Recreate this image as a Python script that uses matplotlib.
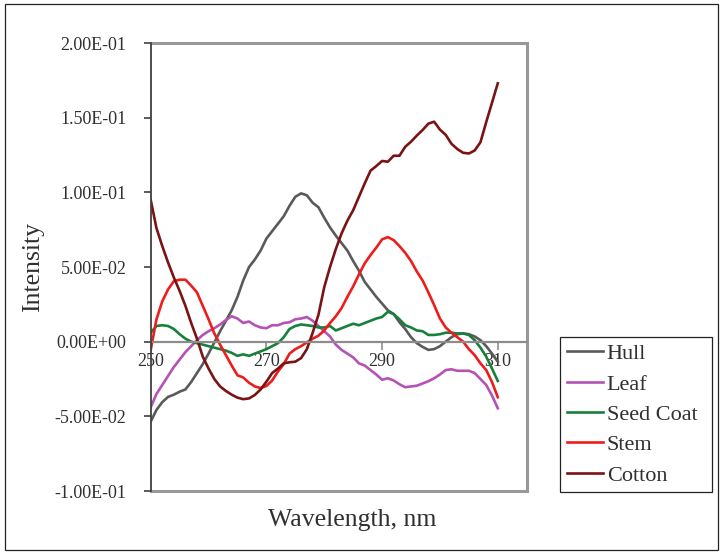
import numpy as np
import matplotlib
matplotlib.use("Agg")
import matplotlib.pyplot as plt
from matplotlib.patches import Rectangle
from matplotlib.ticker import FuncFormatter, MultipleLocator

# Wavelength axis (nm), 1 nm steps
wavelength = np.arange(250, 311)

hull = [
    -0.0535, -0.0457, -0.0405, -0.0370, -0.0355, -0.0335, -0.0320, -0.0270, -0.0210, -0.0150,
    -0.0080, -0.0005, 0.0070, 0.0140, 0.0210, 0.0300, 0.0410, 0.0500, 0.0550, 0.0610,
    0.0690, 0.0740, 0.0790, 0.0840, 0.0910, 0.0970, 0.0993, 0.0980, 0.0930, 0.0900,
    0.0830, 0.0765, 0.0710, 0.0660, 0.0610, 0.0540, 0.0475, 0.0400, 0.0350, 0.0300,
    0.0255, 0.0210, 0.0185, 0.0130, 0.0085, 0.0030, -0.0010, -0.0035, -0.0055, -0.0050,
    -0.0030, 0.0000, 0.0030, 0.0050, 0.0055, 0.0050, 0.0035, 0.0010, -0.0030, -0.0080,
    -0.0134,
]

leaf = [
    -0.0440, -0.0350, -0.0290, -0.0230, -0.0170, -0.0120, -0.0070, -0.0030, 0.0010, 0.0045,
    0.0070, 0.0090, 0.0115, 0.0145, 0.0170, 0.0155, 0.0125, 0.0135, 0.0110, 0.0095,
    0.0090, 0.0110, 0.0110, 0.0125, 0.0130, 0.0150, 0.0155, 0.0165, 0.0140, 0.0105,
    0.0070, 0.0035, -0.0020, -0.0055, -0.0080, -0.0105, -0.0145, -0.0160, -0.0190, -0.0220,
    -0.0255, -0.0245, -0.0260, -0.0285, -0.0305, -0.0300, -0.0295, -0.0280, -0.0265, -0.0245,
    -0.0220, -0.0190, -0.0185, -0.0195, -0.0195, -0.0195, -0.0210, -0.0250, -0.0290, -0.0360,
    -0.0446,
]

seed_coat = [
    0.0060, 0.0105, 0.0110, 0.0105, 0.0085, 0.0050, 0.0020, 0.0000, -0.0010, -0.0020,
    -0.0030, -0.0040, -0.0050, -0.0060, -0.0075, -0.0095, -0.0085, -0.0095, -0.0080, -0.0065,
    -0.0050, -0.0030, -0.0010, 0.0030, 0.0085, 0.0105, 0.0115, 0.0110, 0.0105, 0.0095,
    0.0095, 0.0105, 0.0075, 0.0090, 0.0105, 0.0120, 0.0110, 0.0125, 0.0140, 0.0155,
    0.0165, 0.0200, 0.0185, 0.0150, 0.0110, 0.0095, 0.0075, 0.0070, 0.0045, 0.0045,
    0.0050, 0.0060, 0.0060, 0.0055, 0.0055, 0.0045, 0.0010, -0.0040, -0.0100, -0.0180,
    -0.0263,
]

stem = [
    -0.0056, 0.0150, 0.0270, 0.0350, 0.0405, 0.0415, 0.0415, 0.0375, 0.0330, 0.0240,
    0.0150, 0.0055, -0.0020, -0.0090, -0.0160, -0.0225, -0.0240, -0.0275, -0.0300, -0.0310,
    -0.0297, -0.0260, -0.0200, -0.0150, -0.0080, -0.0050, -0.0030, -0.0005, 0.0020, 0.0040,
    0.0075, 0.0125, 0.0170, 0.0225, 0.0300, 0.0370, 0.0450, 0.0525, 0.0580, 0.0630,
    0.0685, 0.0700, 0.0680, 0.0640, 0.0595, 0.0540, 0.0470, 0.0410, 0.0330, 0.0245,
    0.0155, 0.0095, 0.0060, 0.0030, 0.0000, -0.0050, -0.0090, -0.0145, -0.0190, -0.0270,
    -0.0372,
]

cotton = [
    0.0950, 0.0760, 0.0640, 0.0530, 0.0430, 0.0340, 0.0240, 0.0125, 0.0020, -0.0100,
    -0.0180, -0.0250, -0.0300, -0.0330, -0.0355, -0.0375, -0.0385, -0.0380, -0.0357, -0.0320,
    -0.0268, -0.0210, -0.0180, -0.0145, -0.0138, -0.0134, -0.0110, -0.0050, 0.0060, 0.0180,
    0.0365, 0.0500, 0.0620, 0.0725, 0.0810, 0.0880, 0.0970, 0.1060, 0.1145, 0.1176,
    0.1210, 0.1205, 0.1245, 0.1245, 0.1305, 0.1339, 0.1380, 0.1417, 0.1460, 0.1473,
    0.1420, 0.1385, 0.1325, 0.1290, 0.1265, 0.1260, 0.1280, 0.1335, 0.1470, 0.1600,
    0.1730,
]

series_names = ["Hull", "Leaf", "Seed Coat", "Stem", "Cotton"]
series_values = [hull, leaf, seed_coat, stem, cotton]
series_colors = ["#5a5a5a", "#b552b5", "#17803a", "#ee1c1c", "#7a1313"]

x_ticks = [250, 270, 290, 310]

FONT = "Liberation Serif"
TEXT_COLOR = "#303030"

fig = plt.figure(figsize=(7.23, 5.54), dpi=100)
ax = fig.add_axes([150.7 / 723, 1 - 491 / 554, 376 / 723, 448 / 554])

for name, vals, col in zip(series_names, series_values, series_colors):
    ax.plot(wavelength, vals, color=col, linewidth=1.9, label=name, solid_joinstyle="round")

ax.set_xlim(250, 315)
ax.set_ylim(-0.1, 0.2)

# y axis
ax.yaxis.set_major_locator(MultipleLocator(0.05))
ax.yaxis.set_major_formatter(FuncFormatter(lambda v, pos: "%.2E" % (0 if abs(v) < 1e-12 else v)))
ax.tick_params(axis="y", direction="out", length=5, width=1.2, color="#404040",
               labelsize=13, labelcolor=TEXT_COLOR, pad=12.5)

# x axis crossing at zero
ax.set_xticks(x_ticks)
ax.spines["bottom"].set_position(("data", 0))
ax.spines["bottom"].set_color("#8c8c8c")
ax.spines["bottom"].set_linewidth(1.6)
ax.tick_params(axis="x", direction="out", length=6, width=1.2, color="#8c8c8c",
               labelsize=13, labelcolor=TEXT_COLOR, pad=2)

# plot area frame
for side in ["top", "right"]:
    ax.spines[side].set_color("#999999")
    ax.spines[side].set_linewidth(2.2)
ax.spines["left"].set_color("#404040")
ax.spines["left"].set_linewidth(1.3)
ax.spines["left"].set_zorder(5)
ax.plot([0, 1], [0, 0], transform=ax.transAxes, color="#999999", linewidth=2.2,
        clip_on=False, zorder=1)

for lab in ax.get_xticklabels() + ax.get_yticklabels():
    lab.set_fontfamily(FONT)

ax.set_xlabel("Wavelength, nm", fontsize=18.5, family=FONT, color=TEXT_COLOR)
ax.xaxis.set_label_coords((352 - 150.7) / 376, (491 - 520) / 448)
ax.xaxis.label.set_va("center")
ax.set_ylabel("Intensity", fontsize=18.5, family=FONT, color=TEXT_COLOR)
ax.yaxis.set_label_coords((33 - 150.7) / 376, (491 - 267) / 448)
ax.yaxis.label.set_va("center")

leg = fig.legend(loc="upper left",
                 bbox_to_anchor=(560 / 723, 1 - 492 / 554, 152 / 723, 155 / 554),
                 mode="expand", borderaxespad=0, frameon=True, fancybox=False,
                 framealpha=1, edgecolor="#222222", prop={"family": FONT, "size": 16},
                 handlelength=1.65, handletextpad=0.15, labelspacing=0.44,
                 borderpad=0.3)
leg.get_frame().set_linewidth(0.9)
for t in leg.get_texts():
    t.set_color(TEXT_COLOR)

# border round the whole chart
fig.patches.append(Rectangle((5 / 723, 4 / 554), 713 / 723, 546 / 554, fill=False,
                             edgecolor="#222222", linewidth=0.9,
                             transform=fig.transFigure, figure=fig))

fig.savefig("out.png", dpi=100)
